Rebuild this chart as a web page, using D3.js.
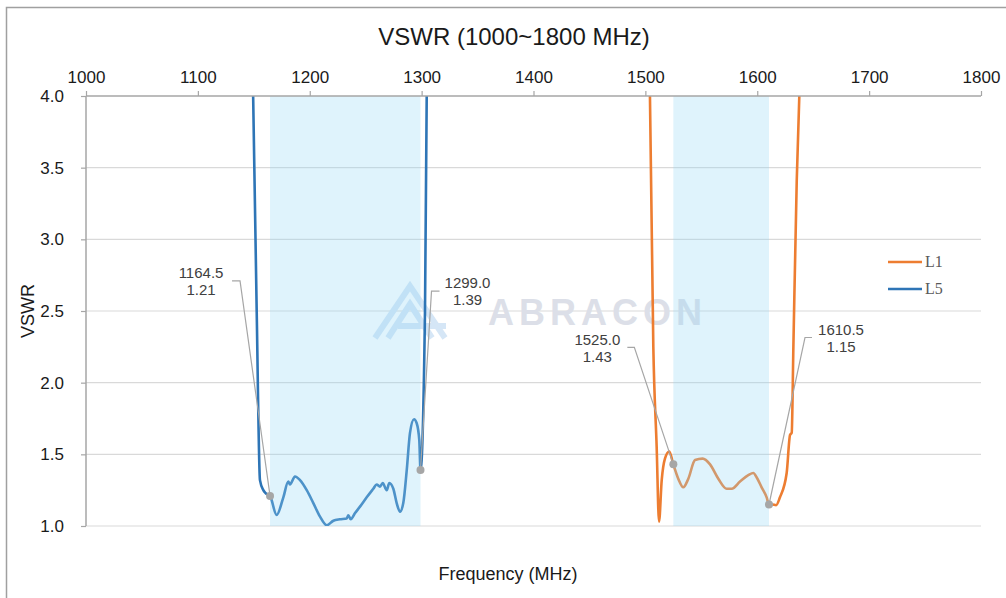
<!DOCTYPE html>
<html>
<head>
<meta charset="utf-8">
<script src="https://cdn.jsdelivr.net/npm/d3@7"></script>
<style>
  html, body { margin: 0; padding: 0; background: #fff; }
  svg { display: block; font-family: "Liberation Sans", Arial, sans-serif; }
</style>
</head>
<body>
<svg id="chart" width="1006" height="598"></svg>
<script>
// ---------------- DATA ----------------
const xTicks = [1000, 1100, 1200, 1300, 1400, 1500, 1600, 1700, 1800];
const yTicks = [1.0, 1.5, 2.0, 2.5, 3.0, 3.5, 4.0];

const l5Freq = [1149.3, 1152.6, 1155.5, 1158.5, 1160.5, 1164.5, 1170.4, 1176.4, 1180.8, 1182.3,
  1186.8, 1191.3, 1197.3, 1203.2, 1209.2, 1215.2, 1221.1, 1227.0, 1233.0, 1234.5,
  1236.6, 1240.5, 1244.9, 1250.9, 1256.8, 1259.8, 1262.8, 1265.2, 1268.8, 1271.1,
  1274.7, 1277.7, 1280.7, 1283.6, 1286.7, 1289.6, 1293.2, 1295.6, 1297.9, 1299.0,
  1303.0, 1304.6];
const l5Vswr = [4.05, 2.49, 1.32, 1.25, 1.23, 1.21, 1.077, 1.20, 1.31, 1.29,
  1.345, 1.32, 1.25, 1.16, 1.065, 1.005, 1.037, 1.047, 1.053, 1.075,
  1.047, 1.09, 1.135, 1.20, 1.26, 1.29, 1.275, 1.30, 1.25, 1.30,
  1.26, 1.16, 1.10, 1.16, 1.39, 1.65, 1.745, 1.717, 1.60, 1.39,
  2.49, 4.05];

const l1Freq = [1504.0, 1507.1, 1510.1, 1512.2, 1514.6, 1517.5, 1521.4, 1525.0, 1529.4, 1533.9,
  1538.4, 1544.4, 1551.2, 1557.8, 1565.2, 1572.7, 1577.2, 1584.6, 1592.0, 1596.5,
  1599.4, 1603.9, 1608.4, 1610.5, 1613.5, 1616.8, 1620.3, 1626.3, 1629.3, 1630.8,
  1632.3, 1635.3, 1637.8];
const l1Vswr = [4.05, 2.25, 1.55, 1.03, 1.32, 1.47, 1.52, 1.43, 1.33, 1.27,
  1.33, 1.46, 1.47, 1.43, 1.33, 1.26, 1.26, 1.31, 1.355, 1.37,
  1.34, 1.27, 1.20, 1.15, 1.15, 1.145, 1.20, 1.37, 1.635, 1.65,
  2.25, 3.41, 4.05];

const seriesNames = ["L1", "L5"];

const bandStart = [1164.5, 1525.0];
const bandEnd = [1299.0, 1610.5];

const markerFreq = [1164.5, 1299.0, 1525.0, 1610.5];
const markerVswr = [1.21, 1.39, 1.43, 1.15];

// ---------------- LAYOUT / STYLE ----------------
// label offsets relative to marker (pixels)
const labelLayout = [
  { tx: -69, ty: -218, ex1: -38, ex2: -30, ey: -215 },
  { tx: 47,  ty: -182, ex1: 19,  ex2: 11,  ey: -179 },
  { tx: -76, ty: -119, ex1: -46, ex2: -39, ey: -117 },
  { tx: 72,  ty: -170, ex1: 43,  ex2: 36,  ey: -167 }
];

const colors = { L1: "#ed7d31", L5: "#2e75b6" };

const svg = d3.select("#chart");
const x = d3.scaleLinear().domain([1000, 1800]).range([86, 981]);
const y = d3.scaleLinear().domain([1, 4]).range([526, 96]);

// outer border
svg.append("rect").attr("x", 6.5).attr("y", 7.5).attr("width", 1020).attr("height", 620)
  .attr("fill", "none").attr("stroke", "#a0a0a0").attr("stroke-width", 1.5);

// clip
svg.append("defs").append("clipPath").attr("id", "plotclip")
  .append("rect").attr("x", 86).attr("y", 96).attr("width", 895).attr("height", 430);

// gridlines
svg.append("g").selectAll("line").data(yTicks.filter(d => d < 4)).join("line")
  .attr("x1", 86).attr("x2", 981)
  .attr("y1", d => y(d)).attr("y2", d => y(d))
  .attr("stroke", "#d9d9d9").attr("stroke-width", 1.2);

// watermark
const wm = svg.append("g");
wm.append("path")
  .attr("d", "M375,338 L410,286 L445,338 M388,338 L410,304 L432,338 M398,326 L446,326")
  .attr("fill", "none").attr("stroke", "#d5e6f6").attr("stroke-width", 6)
  .attr("stroke-linejoin", "miter");
wm.append("text").attr("x", 488).attr("y", 325)
  .attr("font-size", 36).attr("font-weight", "bold").attr("letter-spacing", 5)
  .attr("fill", "#dcdfe8").text("ABRACON");

// lines
const line = d3.line().x(d => x(d[0])).y(d => y(d[1])).curve(d3.curveMonotoneX);
const plot = svg.append("g").attr("clip-path", "url(#plotclip)");
plot.append("path").datum(d3.zip(l5Freq, l5Vswr))
  .attr("d", line).attr("fill", "none").attr("stroke", colors.L5).attr("stroke-width", 2.6)
  .attr("stroke-linejoin", "round");
plot.append("path").datum(d3.zip(l1Freq, l1Vswr))
  .attr("d", line).attr("fill", "none").attr("stroke", colors.L1).attr("stroke-width", 2.6)
  .attr("stroke-linejoin", "round");

// bands (semi-transparent overlay)
svg.append("g").selectAll("rect").data(d3.zip(bandStart, bandEnd)).join("rect")
  .attr("x", d => x(d[0])).attr("width", d => x(d[1]) - x(d[0]))
  .attr("y", y(4)).attr("height", y(1) - y(4))
  .attr("fill", "rgb(150,215,245)").attr("fill-opacity", 0.3);

// leaders, markers, labels
const marks = svg.append("g");
markerFreq.forEach((f, i) => {
  const px = x(f), py = y(markerVswr[i]);
  const L = labelLayout[i];
  marks.append("polyline")
    .attr("points", `${px + L.ex1},${py + L.ey} ${px + L.ex2},${py + L.ey} ${px},${py}`)
    .attr("fill", "none").attr("stroke", "#a6a6a6").attr("stroke-width", 1.2);
  marks.append("circle").attr("cx", px).attr("cy", py).attr("r", 4).attr("fill", "#a6a6a6");
  const t = marks.append("text").attr("text-anchor", "middle").attr("font-size", 15).attr("fill", "#404040");
  t.append("tspan").attr("x", px + L.tx).attr("y", py + L.ty).text(f.toFixed(1));
  t.append("tspan").attr("x", px + L.tx).attr("y", py + L.ty + 17).text(markerVswr[i].toFixed(2));
});

// axes
const axisColor = "#a6a6a6";
const xAxis = svg.append("g").attr("transform", "translate(0,96)")
  .call(d3.axisTop(x).tickValues(xTicks).tickSize(5).tickPadding(8).tickFormat(d3.format("d")));
const yAxis = svg.append("g").attr("transform", "translate(86,0)")
  .call(d3.axisLeft(y).tickValues(yTicks).tickSize(5).tickPadding(17).tickFormat(d3.format(".1f")));
[xAxis, yAxis].forEach(a => {
  a.select(".domain").attr("stroke", axisColor).attr("stroke-width", 1.5);
  a.selectAll(".tick line").attr("stroke", axisColor).attr("stroke-width", 1.2);
  a.selectAll(".tick text").attr("fill", "#1a1a1a").attr("font-size", 17)
    .attr("font-family", "'Liberation Sans', Arial, sans-serif");
});
xAxis.select(".domain").attr("d", "M86,0H981");
yAxis.select(".domain").attr("d", "M0,96V526");

// titles
svg.append("text").attr("x", 514).attr("y", 45).attr("text-anchor", "middle")
  .attr("font-size", 24).attr("fill", "#1a1a1a").text("VSWR (1000~1800 MHz)");
svg.append("text").attr("x", 508).attr("y", 580).attr("text-anchor", "middle")
  .attr("font-size", 18).attr("fill", "#1a1a1a").text("Frequency (MHz)");
svg.append("text").attr("transform", "translate(34,311) rotate(-90)").attr("text-anchor", "middle")
  .attr("font-size", 18).attr("fill", "#1a1a1a").text("VSWR");

// legend
const leg = svg.append("g");
const legY = [262, 289];
seriesNames.forEach((n, i) => {
  leg.append("line").attr("x1", 888).attr("x2", 922).attr("y1", legY[i]).attr("y2", legY[i])
    .attr("stroke", colors[n]).attr("stroke-width", 2.6);
  leg.append("text").attr("x", 925).attr("y", legY[i] + 5)
    .attr("font-family", "'Liberation Serif', 'Times New Roman', serif")
    .attr("font-size", 16).attr("fill", "#595959").text(n);
});
</script>
</body>
</html>
